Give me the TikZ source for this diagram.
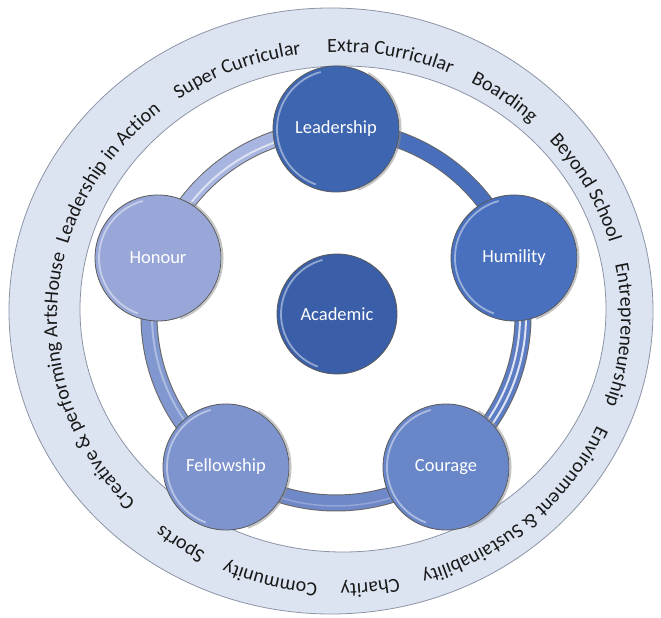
\documentclass[tikz,border=0pt]{standalone}
\usepackage{fontspec}
\setmainfont{Carlito}
\usetikzlibrary{decorations.text}
\newcommand\ringfont{\fontsize{20}{22}\selectfont}
\newcommand\bubfont{\fontsize{18.5}{20}\selectfont}
\definecolor{cLead}{RGB}{61,101,176}
\definecolor{cHum}{RGB}{72,112,190}
\definecolor{cCour}{RGB}{104,134,200}
\definecolor{cFell}{RGB}{126,148,207}
\definecolor{cHon}{RGB}{152,167,216}
\definecolor{cAcad}{RGB}{58,95,168}
\definecolor{cBand}{RGB}{221,228,241}
\definecolor{cBandLine}{RGB}{140,148,166}
\definecolor{cSegA}{RGB}{72,110,188}
\definecolor{cSegB}{RGB}{92,124,196}
\definecolor{cSegC}{RGB}{110,136,200}
\definecolor{cSegD}{RGB}{129,151,208}
\definecolor{cSegE}{RGB}{168,181,224}
\newcommand\ringlabel[2]{%
  \path[decorate, decoration={text along path, text align=center,
    text color=black!90, text={|\ringfont|#2}}]
    (339,300) ++({282*cos(#1+40)},{266*sin(#1+40)})
    arc[start angle=#1+40, end angle=#1-40, x radius=282, y radius=266];}
\tikzset{
  bub/.style={circle, minimum size=126pt, inner sep=0pt, draw=black!65,
    line width=0.8pt, text=white, font=\bubfont},
  tubeout/.style={line width=17pt, draw=black!60},
  bevel/.style={draw=white, opacity=0.45, line width=1.8pt},
  rimshade/.style={draw=black!45, opacity=0.5, line width=2pt},
}
\begin{document}
\begin{tikzpicture}[x=1pt,y=1pt]
\useasboundingbox (0,0) rectangle (661,618);
% outer band
\path[fill=cBand, even odd rule]
  (331,307) ellipse[x radius=322, y radius=303]
  (343,309) ellipse[x radius=263, y radius=243];
\draw[cBandLine, line width=0.8pt] (331,307) ellipse[x radius=322, y radius=303];
\draw[cBandLine, line width=0.8pt] (343,309) ellipse[x radius=263, y radius=243];
% ring labels
\ringlabel{79.3}{Extra Curricular}
\ringlabel{54}{Boarding}
\ringlabel{28.6}{Beyond School}
\ringlabel{-3.6}{Entrepreneurship}
\ringlabel{-48}{Environment {\&} Sustainability}
\ringlabel{-83.6}{Charity}
\ringlabel{-104.3}{Community}
\ringlabel{-124.2}{Sports}
\ringlabel{194.8}{Creative {\&} performing ArtsHouse}
\ringlabel{147}{Leadership in Action}
\ringlabel{111.6}{Super Curricular}
% tube ring
\foreach \a/\b/\c in {90/18/cSegA, 18/-54/cSegB, -54/-126/cSegC, -126/-198/cSegD, 162/90/cSegE} {
  \draw[tubeout] (336,302) ++(\a:187) arc[start angle=\a, end angle=\b, radius=187];
  \draw[line width=15pt, draw=\c] (336,302) ++(\a:187) arc[start angle=\a, end angle=\b, radius=187];
}
\draw[white, line width=2pt, opacity=0.8] (336,302) ++(18:184) arc[start angle=18, end angle=-54, radius=184];
\draw[white, line width=2pt, opacity=0.8] (336,302) ++(18:190) arc[start angle=18, end angle=-54, radius=190];
\draw[white, line width=2pt, opacity=0.6] (336,302) ++(162:184) arc[start angle=162, end angle=90, radius=184];
\draw[white, line width=2pt, opacity=0.35] (336,302) ++(-126:184) arc[start angle=-126, end angle=-198, radius=184];
\draw[white, line width=1.5pt, opacity=0.25] (336,302) ++(-54:190) arc[start angle=-54, end angle=-126, radius=190];
% bubbles
\node[bub, fill=cLead] (lead) at (336,489) {Leadership};
\node[bub, fill=cHum]  (hum)  at (514,360) {Humility};
\node[bub, fill=cCour] (cour) at (446,151) {Courage};
\node[bub, fill=cFell] (fell) at (226,151) {Fellowship};
\node[bub, fill=cHon]  (hon)  at (158,360) {Honour};
\node[bub, fill=cAcad, minimum size=120pt] (acad) at (337,304) {Academic};
\foreach \n in {lead,hum,cour,fell,hon} {
  \draw[bevel] (\n.center) ++(105:59) arc[start angle=105, end angle=250, radius=59];
  \draw[rimshade] (\n.center) ++(-70:64.5) arc[start angle=-70, end angle=60, radius=64.5];
}
\draw[bevel] (acad.center) ++(105:56) arc[start angle=105, end angle=250, radius=56];
\end{tikzpicture}
\end{document}
